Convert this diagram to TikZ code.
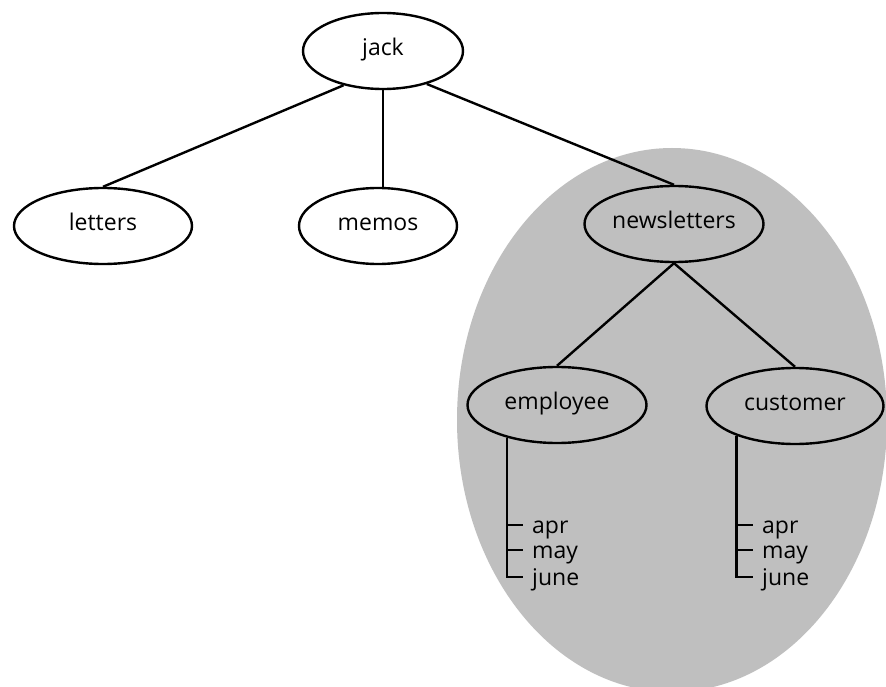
\documentclass[tikz,border=0pt]{standalone}
\usepackage{fontspec}
\setmainfont{Open Sans}
\usetikzlibrary{shapes.geometric}
\newcommand\zw[1]{\makebox[0pt]{#1}}
\begin{document}
\begin{tikzpicture}[x=1pt,y=1pt,
  ell/.style={draw, ellipse, line width=2.4pt, inner sep=0pt, minimum height=76pt,
    text height=0.95em, text depth=0.1em, font=\fontsize{23}{26}\selectfont},
  conn/.style={line width=2.4pt},
  lbl/.style={anchor=base west, inner sep=0pt, font=\fontsize{23}{26}\selectfont}]
\useasboundingbox (0,0) rectangle (886,-687);
\fill[white] (0,0) rectangle (886,-687);
\begin{scope}
\clip (0,0) rectangle (886,-687);
\fill[black!25] (672,-420) ellipse [x radius=215, y radius=272];
\end{scope}

\node[ell, minimum width=160pt] (jack) at (383,-51) {\zw{jack}};
\node[ell, minimum width=178pt] (letters) at (103,-226) {\zw{letters}};
\node[ell, minimum width=158pt] (memos) at (378,-226) {\zw{memos}};
\node[ell, minimum width=179pt] (newsletters) at (674,-224) {\zw{newsletters}};
\node[ell, minimum width=179pt] (employee) at (557,-405) {\zw{employee}};
\node[ell, minimum width=177pt] (customer) at (795,-406) {\zw{customer}};

\draw[conn] (jack.-139) -- (letters.north);
\draw[conn] (jack.south) -- (jack.south |- memos.north);
\draw[conn] (jack.-37) -- (newsletters.north);
\draw[conn] (newsletters.south) -- (employee.north);
\draw[conn] (newsletters.south) -- (customer.north);

\node[lbl] (eapr) at (532,-533) {apr};
\node[lbl] (emay) at (532,-558) {may};
\node[lbl] (ejune) at (532,-585) {june};
\node[lbl] (capr) at (762,-533) {apr};
\node[lbl] (cmay) at (762,-558) {may};
\node[lbl] (cjune) at (762,-585) {june};

\coordinate (etop) at (employee.-147);
\coordinate (ctop) at (customer.-153.5);
\draw[conn] (etop) |- ([xshift=-9pt,yshift=8pt]ejune.base west);
\draw[conn] (etop |- eapr.base west) ++(0,8pt) -- ([xshift=-9pt,yshift=8pt]eapr.base west);
\draw[conn] (etop |- emay.base west) ++(0,8pt) -- ([xshift=-9pt,yshift=8pt]emay.base west);
\draw[conn] (ctop) |- ([xshift=-9pt,yshift=8pt]cjune.base west);
\draw[conn] (ctop |- capr.base west) ++(0,8pt) -- ([xshift=-9pt,yshift=8pt]capr.base west);
\draw[conn] (ctop |- cmay.base west) ++(0,8pt) -- ([xshift=-9pt,yshift=8pt]cmay.base west);
\end{tikzpicture}
\end{document}
